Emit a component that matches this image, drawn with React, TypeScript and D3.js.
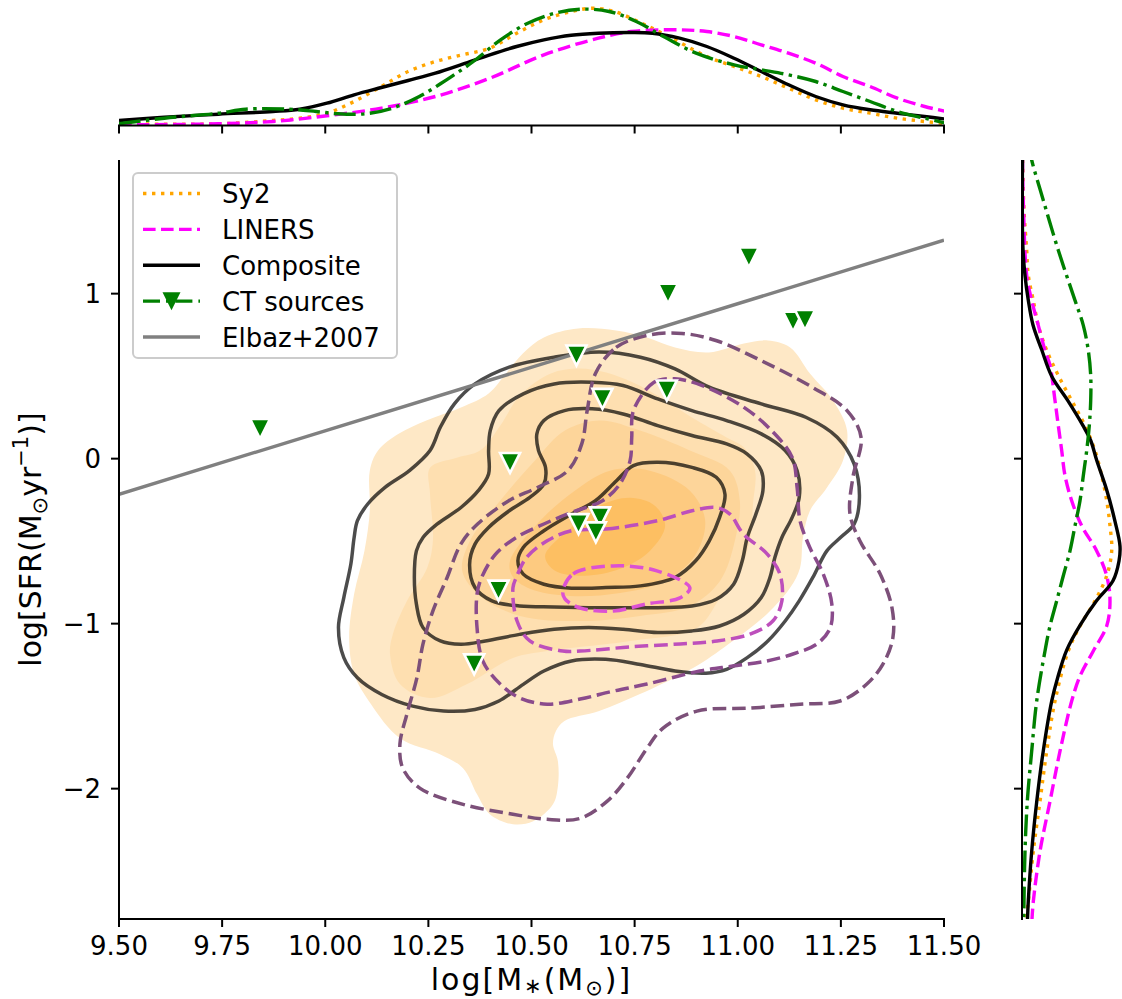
import React from 'react';
import * as d3 from 'd3';

type P = [number, number];

// ---- axis ticks ----
const massTicks = [9.5, 9.75, 10, 10.25, 10.5, 10.75, 11, 11.25, 11.5];
const sfrTicks = [-2, -1, 0, 1];

// ---- Sy2 filled KDE levels (outer to inner), [log M*, log SFR] ----
const sy2Level1: P[] = [[10.438,0.516],[10.479,0.638],[10.530,0.735],[10.613,0.789],[10.705,0.777],[10.780,0.735],[10.848,0.674],[10.930,0.644],[11.015,0.698],[11.073,0.716],[11.127,0.674],[11.175,0.516],[11.231,0.352],[11.265,0.170],[11.255,-0.012],[11.216,-0.176],[11.175,-0.316],[11.158,-0.480],[11.151,-0.662],[11.127,-0.783],[11.071,-0.941],[10.988,-1.105],[10.908,-1.245],[10.865,-1.305],[10.763,-1.427],[10.664,-1.530],[10.579,-1.591],[10.559,-1.652],[10.552,-1.730],[10.564,-1.834],[10.564,-1.985],[10.552,-2.095],[10.504,-2.198],[10.455,-2.216],[10.399,-2.155],[10.368,-2.034],[10.334,-1.876],[10.278,-1.791],[10.181,-1.694],[10.111,-1.488],[10.070,-1.305],[10.058,-1.087],[10.070,-0.820],[10.095,-0.559],[10.108,-0.316],[10.108,-0.073],[10.128,0.049],[10.179,0.152],[10.245,0.231],[10.329,0.310],[10.396,0.395]];
const sy2Level2: P[] = [[10.254,-0.055],[10.319,0.006],[10.375,0.049],[10.424,0.200],[10.472,0.383],[10.547,0.516],[10.613,0.546],[10.681,0.522],[10.746,0.461],[10.814,0.370],[10.889,0.249],[10.973,0.128],[11.015,0.067],[11.042,-0.073],[11.037,-0.273],[11.030,-0.480],[11.005,-0.680],[10.957,-0.844],[10.901,-1.026],[10.739,-1.105],[10.538,-1.166],[10.455,-1.208],[10.344,-1.366],[10.254,-1.451],[10.181,-1.366],[10.157,-1.184],[10.164,-1.063],[10.198,-0.862],[10.247,-0.662],[10.261,-0.498],[10.254,-0.213]];
const sy2Level3: P[] = [[10.351,-0.498],[10.424,-0.255],[10.508,-0.012],[10.581,0.170],[10.666,0.231],[10.763,0.170],[10.884,0.049],[10.981,-0.073],[11.005,-0.255],[10.993,-0.498],[10.957,-0.741],[10.884,-0.893],[10.763,-0.953],[10.618,-0.984],[10.472,-0.953],[10.375,-0.832],[10.332,-0.680]];
const sy2Level4: P[] = [[10.448,-0.619],[10.521,-0.376],[10.605,-0.194],[10.690,-0.073],[10.787,-0.073],[10.884,-0.194],[10.921,-0.376],[10.896,-0.589],[10.824,-0.741],[10.715,-0.814],[10.593,-0.832],[10.496,-0.789],[10.453,-0.710]];
const sy2Level5: P[] = [[10.533,-0.589],[10.593,-0.425],[10.666,-0.285],[10.739,-0.237],[10.799,-0.285],[10.824,-0.407],[10.787,-0.559],[10.715,-0.668],[10.630,-0.710],[10.557,-0.680]];

// ---- Composite KDE contour lines ----
const compLevel1: P[] = [[10.032,-1.024],[10.045,-0.842],[10.062,-0.640],[10.070,-0.478],[10.078,-0.376],[10.103,-0.275],[10.145,-0.174],[10.204,-0.073],[10.254,0.049],[10.279,0.190],[10.313,0.332],[10.363,0.453],[10.446,0.555],[10.555,0.615],[10.664,0.646],[10.764,0.615],[10.848,0.544],[10.931,0.433],[11.057,0.332],[11.165,0.251],[11.241,0.130],[11.282,-0.032],[11.295,-0.235],[11.282,-0.397],[11.249,-0.478],[11.216,-0.559],[11.182,-0.720],[11.149,-0.862],[11.115,-0.984],[11.073,-1.105],[11.023,-1.206],[10.973,-1.277],[10.923,-1.300],[10.848,-1.287],[10.764,-1.247],[10.680,-1.216],[10.597,-1.226],[10.530,-1.287],[10.480,-1.368],[10.421,-1.469],[10.363,-1.520],[10.287,-1.530],[10.212,-1.500],[10.137,-1.429],[10.078,-1.328],[10.045,-1.206]];
const compLevel2: P[] = [[10.216,-0.721],[10.221,-0.559],[10.237,-0.478],[10.271,-0.397],[10.329,-0.296],[10.371,-0.194],[10.396,-0.093],[10.396,0.049],[10.400,0.170],[10.421,0.291],[10.480,0.393],[10.555,0.453],[10.647,0.463],[10.722,0.443],[10.806,0.362],[10.889,0.291],[10.973,0.231],[11.057,0.150],[11.115,0.049],[11.144,-0.073],[11.149,-0.235],[11.132,-0.356],[11.107,-0.478],[11.090,-0.599],[11.078,-0.721],[11.057,-0.842],[11.015,-0.943],[10.956,-1.014],[10.889,-1.044],[10.806,-1.054],[10.722,-1.034],[10.639,-1.024],[10.555,-1.034],[10.471,-1.065],[10.388,-1.105],[10.329,-1.125],[10.279,-1.105],[10.237,-1.024],[10.221,-0.882]];
const compLevel3: P[] = [[10.350,-0.640],[10.363,-0.518],[10.396,-0.417],[10.446,-0.316],[10.496,-0.235],[10.530,-0.154],[10.534,-0.053],[10.517,0.049],[10.513,0.150],[10.530,0.231],[10.580,0.291],[10.647,0.302],[10.722,0.271],[10.806,0.200],[10.889,0.140],[10.973,0.089],[11.023,0.028],[11.057,-0.073],[11.061,-0.194],[11.044,-0.336],[11.023,-0.478],[11.011,-0.619],[10.990,-0.761],[10.948,-0.852],[10.889,-0.893],[10.806,-0.903],[10.722,-0.903],[10.639,-0.903],[10.555,-0.899],[10.471,-0.893],[10.404,-0.862],[10.363,-0.781]];
const compLevel4: P[] = [[10.467,-0.619],[10.480,-0.538],[10.530,-0.437],[10.597,-0.336],[10.655,-0.255],[10.706,-0.134],[10.747,-0.042],[10.806,-0.022],[10.889,-0.053],[10.948,-0.113],[10.969,-0.215],[10.956,-0.356],[10.931,-0.498],[10.898,-0.619],[10.848,-0.720],[10.764,-0.771],[10.680,-0.781],[10.597,-0.785],[10.530,-0.761],[10.480,-0.700]];

// ---- LINERS KDE contour lines ----
const linLevel1: P[] = [[10.655,0.516],[10.705,0.674],[10.780,0.747],[10.865,0.759],[10.947,0.716],[11.056,0.595],[11.182,0.431],[11.265,0.291],[11.299,0.128],[11.279,-0.115],[11.272,-0.334],[11.296,-0.498],[11.345,-0.698],[11.374,-0.905],[11.376,-1.087],[11.352,-1.245],[11.313,-1.366],[11.248,-1.469],[11.151,-1.488],[11.030,-1.512],[10.901,-1.530],[10.819,-1.633],[10.780,-1.755],[10.732,-1.937],[10.683,-2.077],[10.618,-2.180],[10.538,-2.186],[10.455,-2.155],[10.334,-2.095],[10.230,-1.998],[10.188,-1.876],[10.181,-1.730],[10.198,-1.548],[10.222,-1.330],[10.237,-1.123],[10.261,-0.923],[10.295,-0.723],[10.329,-0.516],[10.370,-0.395],[10.445,-0.255],[10.513,-0.176],[10.588,-0.073],[10.622,0.091],[10.635,0.291]];
const linLevel2: P[] = [[10.747,0.291],[10.797,0.463],[10.847,0.484],[10.914,0.443],[11.015,0.311],[11.082,0.170],[11.132,0.008],[11.144,-0.176],[11.151,-0.376],[11.175,-0.540],[11.207,-0.698],[11.228,-0.880],[11.224,-1.026],[11.192,-1.123],[11.134,-1.184],[11.071,-1.226],[10.988,-1.257],[10.908,-1.287],[10.780,-1.366],[10.698,-1.409],[10.618,-1.457],[10.538,-1.488],[10.472,-1.451],[10.424,-1.366],[10.382,-1.226],[10.368,-1.026],[10.368,-0.820],[10.379,-0.721],[10.413,-0.579],[10.463,-0.478],[10.530,-0.396],[10.597,-0.326],[10.672,-0.255],[10.714,-0.154],[10.739,-0.012],[10.743,0.129]];
const linLevel3: P[] = [[10.597,-0.437],[10.680,-0.427],[10.806,-0.376],[10.889,-0.316],[10.948,-0.296],[10.981,-0.336],[11.013,-0.455],[11.071,-0.577],[11.102,-0.698],[11.107,-0.862],[11.085,-0.984],[11.030,-1.063],[10.950,-1.105],[10.860,-1.123],[10.739,-1.141],[10.618,-1.166],[10.576,-1.166],[10.496,-1.105],[10.465,-0.984],[10.455,-0.783],[10.463,-0.721],[10.488,-0.599],[10.538,-0.498]];
const linLevel4: P[] = [[10.576,-0.801],[10.601,-0.698],[10.698,-0.650],[10.804,-0.680],[10.884,-0.783],[10.860,-0.844],[10.780,-0.880],[10.698,-0.923],[10.618,-0.905],[10.581,-0.850]];

// ---- CT sources ----
const ctMass = [9.842, 10.831, 11.027, 11.134, 11.163, 10.609, 10.672, 10.828, 10.448, 10.614, 10.666, 10.656, 10.420, 10.361];
const ctSfr = [0.18, 1.0, 1.22, 0.83, 0.84, 0.625, 0.362, 0.413, -0.026, -0.397, -0.356, -0.447, -0.80, -1.247];

// ---- Elbaz et al. 2007 main sequence (end points) ----
const elbazMass = [9.5, 11.5];
const elbazSfr = [-0.216, 1.324];

// ---- marginal KDEs of log M* : [log M*, density] ----
const sy2MassKde: P[] = [[9.5,0.017],[9.741,0.017],[9.873,0.05],[9.938,0.073],[10.004,0.123],[10.07,0.24],[10.136,0.39],[10.201,0.54],[10.267,0.64],[10.333,0.707],[10.399,0.773],[10.464,0.923],[10.53,1.057],[10.596,1.14],[10.649,1.173],[10.701,1.14],[10.767,1.023],[10.833,0.89],[10.925,0.69],[10.991,0.59],[11.057,0.49],[11.123,0.373],[11.189,0.257],[11.255,0.173],[11.321,0.123],[11.387,0.073],[11.506,0.017]];
const linMassKde: P[] = [[9.5,0.007],[9.741,0.017],[9.873,0.04],[10.004,0.097],[10.136,0.173],[10.267,0.29],[10.399,0.473],[10.53,0.707],[10.662,0.873],[10.741,0.94],[10.859,0.957],[10.925,0.94],[10.991,0.89],[11.057,0.807],[11.123,0.723],[11.189,0.623],[11.255,0.49],[11.321,0.39],[11.387,0.273],[11.453,0.19],[11.506,0.14]];
const compMassKde: P[] = [[9.5,0.05],[9.61,0.083],[9.741,0.113],[9.873,0.14],[9.938,0.163],[10.004,0.223],[10.07,0.307],[10.136,0.38],[10.201,0.45],[10.267,0.523],[10.333,0.613],[10.399,0.707],[10.464,0.79],[10.53,0.857],[10.596,0.903],[10.662,0.923],[10.741,0.93],[10.793,0.923],[10.859,0.873],[10.925,0.79],[10.991,0.673],[11.057,0.54],[11.123,0.407],[11.189,0.29],[11.255,0.207],[11.321,0.157],[11.387,0.123],[11.453,0.09],[11.506,0.063]];
const ctMassKde: P[] = [[9.5,0.017],[9.61,0.073],[9.741,0.123],[9.807,0.163],[9.912,0.163],[9.978,0.14],[10.031,0.117],[10.096,0.117],[10.162,0.173],[10.228,0.29],[10.294,0.457],[10.359,0.64],[10.425,0.857],[10.491,1.023],[10.557,1.123],[10.622,1.163],[10.688,1.14],[10.754,1.04],[10.82,0.89],[10.899,0.723],[10.991,0.607],[11.057,0.557],[11.123,0.507],[11.189,0.44],[11.255,0.34],[11.321,0.24],[11.387,0.14],[11.453,0.073],[11.506,0.023]];

// ---- marginal KDEs of log SFR : [log SFR, density] ----
const sy2SfrKde: P[] = [[1.81,0.005],[1.506,0.02],[1.263,0.047],[1.111,0.063],[0.959,0.113],[0.808,0.163],[0.656,0.247],[0.504,0.363],[0.352,0.497],[0.2,0.63],[0.049,0.73],[-0.103,0.797],[-0.255,0.847],[-0.407,0.88],[-0.559,0.897],[-0.71,0.847],[-0.862,0.73],[-1.014,0.58],[-1.166,0.463],[-1.469,0.33],[-1.773,0.247],[-2.077,0.18],[-2.38,0.113],[-2.684,0.063],[-2.79,0.04]];
const linSfrKde: P[] = [[1.81,0.005],[1.566,0.013],[1.111,0.047],[0.959,0.097],[0.808,0.163],[0.656,0.23],[0.565,0.28],[0.352,0.33],[0.2,0.363],[0.049,0.397],[-0.103,0.43],[-0.255,0.497],[-0.407,0.597],[-0.559,0.747],[-0.71,0.847],[-0.862,0.88],[-1.014,0.847],[-1.166,0.713],[-1.318,0.58],[-1.469,0.497],[-1.773,0.38],[-2.077,0.28],[-2.38,0.18],[-2.684,0.113],[-2.79,0.1]];
const compSfrKde: P[] = [[1.81,0.005],[1.3,0.008],[1.11,0.03],[0.96,0.063],[0.81,0.11],[0.66,0.197],[0.5,0.297],[0.35,0.46],[0.2,0.61],[0.11,0.687],[-0.01,0.747],[-0.19,0.847],[-0.38,0.93],[-0.53,0.98],[-0.62,0.97],[-0.74,0.91],[-0.86,0.747],[-1.01,0.58],[-1.16,0.447],[-1.32,0.36],[-1.47,0.297],[-1.77,0.213],[-2.08,0.147],[-2.38,0.097],[-2.68,0.063],[-2.79,0.055]];
const ctSfrKde: P[] = [[1.9,0.07],[1.81,0.097],[1.566,0.213],[1.263,0.363],[0.959,0.53],[0.808,0.613],[0.656,0.663],[0.504,0.687],[0.352,0.687],[0.2,0.673],[0.049,0.647],[-0.103,0.613],[-0.255,0.58],[-0.407,0.53],[-0.559,0.48],[-0.71,0.413],[-0.862,0.347],[-1.014,0.28],[-1.166,0.23],[-1.469,0.147],[-1.773,0.097],[-2.077,0.053],[-2.38,0.03],[-2.684,0.02],[-2.79,0.018]];

// ---- legend ----
const legendLabels = ['Sy2', 'LINERS', 'Composite', 'CT sources', 'Elbaz+2007'];

const FONT = 'DejaVu Sans, sans-serif';
const ORANGE = '#ffa500';
const MAGENTA = '#ff00ff';
const GREEN = '#008000';
const GREY = '#808080';

const sy2Fills = ['#fee8c6', '#fedfb0', '#fdd59a', '#fdca80', '#fdbf62'];
const linColors = ['#7c5079', '#8a4b8c', '#bd4fbc', '#dc52d3'];

export default function App() {
  const left = 119, right = 944, top = 160, bottom = 919;
  const mTop = 5.5, mBottom = 125.5;
  const rLeft = 1022, rRight = 1122;

  const x = d3.scaleLinear().domain([9.5, 11.5]).range([left, right]);
  const y = d3.scaleLinear().domain([-2.79, 1.81]).range([bottom, top]);
  const topDens = d3.scaleLinear().domain([0, 1.2]).range([mBottom, mTop]);
  const rightDens = d3.scaleLinear().domain([0, 1.0]).range([rLeft, rRight]);

  const closed = d3.line<P>().x(d => x(d[0])).y(d => y(d[1])).curve(d3.curveCatmullRomClosed.alpha(0.5));
  const topLine = d3.line<P>().x(d => x(d[0])).y(d => topDens(d[1])).curve(d3.curveCatmullRom.alpha(0.5));
  const rightLine = d3.line<P>().x(d => rightDens(d[1])).y(d => y(d[0])).curve(d3.curveCatmullRom.alpha(0.5));
  const straight = d3.line<number>().x(i => x(elbazMass[i])).y(i => y(elbazSfr[i]));

  const fmtMass = d3.format('.2f');
  const fmtSfr = d3.format('d');

  const sy2Levels = [sy2Level1, sy2Level2, sy2Level3, sy2Level4, sy2Level5];
  const compLevels = [compLevel1, compLevel2, compLevel3, compLevel4];
  const linLevels = [linLevel1, linLevel2, linLevel3, linLevel4];

  const lw = 3.4;
  const dashSy2 = '3.4 5.6';
  const dashLin = '12.6 5.4';
  const dashCt = '21.8 5.4 3.4 5.4';

  const tri = (cx: number, cy: number, r: number) =>
    `M${cx - r},${cy - r}L${cx + r},${cy - r}L${cx},${cy + r}Z`;

  const legX0 = 133, legY0 = 173, legW = 264, legH = 185;
  const rowY = d3.scaleLinear().domain([0, 4]).range([193.5, 337]);
  const hx0 = 143, hx1 = 200, tx = 222;

  return (
    <svg width={1122} height={999} viewBox="0 0 1122 999"
      style={{ position: 'absolute', left: 0, top: 0, background: '#fff' }}
      fontFamily={FONT}>
      <defs>
        <clipPath id="clipMain"><rect x={left} y={top} width={right - left} height={bottom - top} /></clipPath>
        <clipPath id="clipTop"><rect x={left} y={0} width={right - left} height={mBottom} /></clipPath>
        <clipPath id="clipRight"><rect x={rLeft} y={top} width={rRight - rLeft + 10} height={bottom - top} /></clipPath>
      </defs>
      <rect x={0} y={0} width={1122} height={999} fill="#fff" />

      {/* ---------- main panel ---------- */}
      <g clipPath="url(#clipMain)">
        {sy2Levels.map((lev, i) => (
          <path key={'f' + i} d={closed(lev) || ''} fill={sy2Fills[i]} stroke="none" />
        ))}
        {compLevels.map((lev, i) => (
          <path key={'c' + i} d={closed(lev) || ''} fill="none" stroke="#000" strokeOpacity={0.7} strokeWidth={3.5} />
        ))}
        {linLevels.map((lev, i) => (
          <path key={'l' + i} d={closed(lev) || ''} fill="none" stroke={linColors[i]} strokeWidth={3.5}
            strokeDasharray="13.5 5.8" />
        ))}
        <path d={straight([0, 1]) || ''} stroke={GREY} strokeWidth={3.4} fill="none" />
        {ctMass.map((m, i) => (
          <path key={'t' + i} d={tri(x(m), y(ctSfr[i]), 10)} fill={GREEN} stroke="#fff" strokeWidth={2.6}
            strokeLinejoin="miter" />
        ))}
      </g>

      {/* main axes */}
      <line x1={left} x2={left} y1={top} y2={bottom + 1} stroke="#000" strokeWidth={2} />
      <line x1={left - 1} x2={right + 1} y1={bottom} y2={bottom} stroke="#000" strokeWidth={2} />
      {massTicks.map(t => (
        <g key={'xt' + t}>
          <line x1={x(t)} x2={x(t)} y1={bottom} y2={bottom + 8} stroke="#000" strokeWidth={2} />
          <text x={x(t)} y={955} fontSize={26} textAnchor="middle" fill="#000">{fmtMass(t)}</text>
        </g>
      ))}
      {sfrTicks.map(t => (
        <g key={'yt' + t}>
          <line x1={left - 8} x2={left} y1={y(t)} y2={y(t)} stroke="#000" strokeWidth={2} />
          <text x={101} y={y(t) + 9.5} fontSize={26} textAnchor="end" fill="#000">{fmtSfr(t)}</text>
        </g>
      ))}
      <text x={(left + right) / 2} y={990} fontSize={30} letterSpacing={2} textAnchor="middle" fill="#000">
        log[M<tspan fontSize={21} dy={3}>∗</tspan><tspan dy={-3}>(M</tspan><tspan fontSize={21} dy={5}>⊙</tspan><tspan dy={-5}>)]</tspan>
      </text>
      <text transform={`translate(41,${(top + bottom) / 2}) rotate(-90)`} fontSize={30} textAnchor="middle" fill="#000">
        log[SFR(M<tspan fontSize={21} dy={6}>⊙</tspan><tspan dy={-6}>yr</tspan><tspan fontSize={21} dy={-13}>−1</tspan><tspan dy={13}>)]</tspan>
      </text>

      {/* legend */}
      <rect x={legX0} y={legY0} width={legW} height={legH} rx={5} ry={5} fill="#fff" fillOpacity={0.8}
        stroke="#cccccc" strokeWidth={2} />
      {legendLabels.map((lab, i) => {
        const yy = rowY(i);
        let handle: React.ReactNode = null;
        if (i === 0) handle = <line x1={hx0} x2={hx1} y1={yy} y2={yy} stroke={ORANGE} strokeWidth={lw} strokeDasharray={dashSy2} />;
        if (i === 1) handle = <line x1={hx0} x2={hx1} y1={yy} y2={yy} stroke={MAGENTA} strokeWidth={lw} strokeDasharray={dashLin} />;
        if (i === 2) handle = <line x1={hx0} x2={hx1} y1={yy} y2={yy} stroke="#000" strokeWidth={lw} />;
        if (i === 3) handle = (
          <g>
            <line x1={hx0} x2={hx1} y1={yy} y2={yy} stroke={GREEN} strokeWidth={lw} strokeDasharray="17 6 3.4 6" />
            <path d={tri((hx0 + hx1) / 2, yy, 9)} fill={GREEN} />
          </g>
        );
        if (i === 4) handle = <line x1={hx0} x2={hx1} y1={yy} y2={yy} stroke={GREY} strokeWidth={lw} />;
        return (
          <g key={'lg' + i}>
            {handle}
            <text x={tx} y={yy + 9.5} fontSize={26} fill="#000">{lab}</text>
          </g>
        );
      })}

      {/* ---------- top marginal ---------- */}
      <g clipPath="url(#clipTop)" fill="none" strokeWidth={lw}>
        <path d={topLine(sy2MassKde) || ''} stroke={ORANGE} strokeDasharray={dashSy2} />
        <path d={topLine(linMassKde) || ''} stroke={MAGENTA} strokeDasharray={dashLin} />
        <path d={topLine(compMassKde) || ''} stroke="#000" />
        <path d={topLine(ctMassKde) || ''} stroke={GREEN} strokeDasharray={dashCt} />
      </g>
      <line x1={left - 1} x2={right + 1} y1={mBottom} y2={mBottom} stroke="#000" strokeWidth={2} />
      {massTicks.map(t => (
        <line key={'mt' + t} x1={x(t)} x2={x(t)} y1={mBottom} y2={mBottom + 8} stroke="#000" strokeWidth={2} />
      ))}

      {/* ---------- right marginal ---------- */}
      <g clipPath="url(#clipRight)" fill="none" strokeWidth={lw}>
        <path d={rightLine(sy2SfrKde) || ''} stroke={ORANGE} strokeDasharray={dashSy2} />
        <path d={rightLine(linSfrKde) || ''} stroke={MAGENTA} strokeDasharray={dashLin} />
        <path d={rightLine(compSfrKde) || ''} stroke="#000" />
        <path d={rightLine(ctSfrKde) || ''} stroke={GREEN} strokeDasharray={dashCt} />
      </g>
      <line x1={rLeft} x2={rLeft} y1={top} y2={bottom + 1} stroke="#000" strokeWidth={2} />
      {sfrTicks.map(t => (
        <line key={'rt' + t} x1={rLeft - 8} x2={rLeft} y1={y(t)} y2={y(t)} stroke="#000" strokeWidth={2} />
      ))}
    </svg>
  );
}
